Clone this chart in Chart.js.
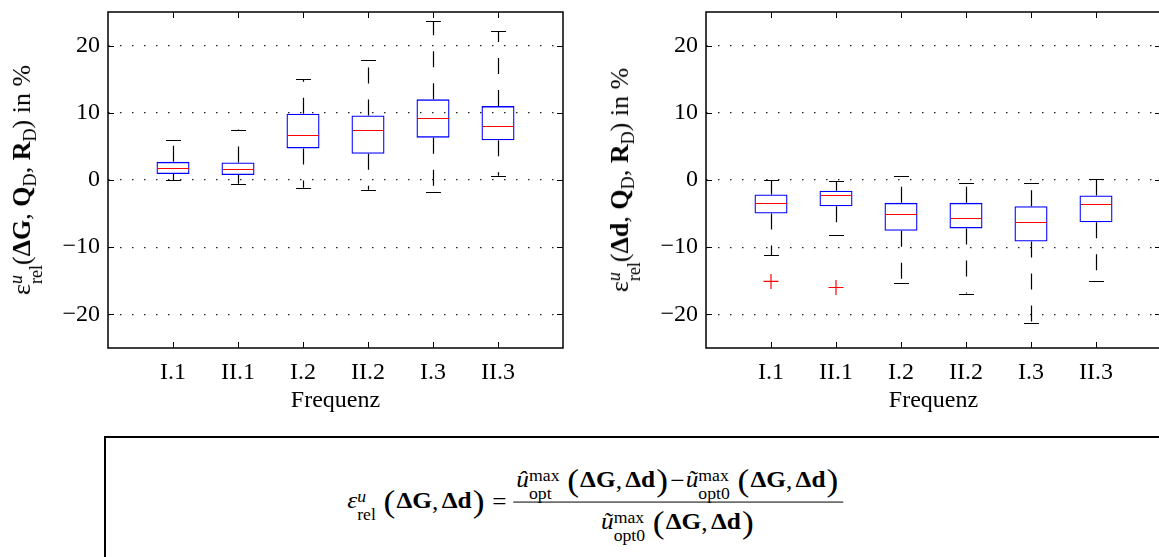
<!DOCTYPE html>
<html>
<head>
<meta charset="utf-8">
<script src="https://cdn.jsdelivr.net/npm/chart.js@4"></script>
<style>
  body {
    margin: 0;
    width: 1159px;
    height: 557px;
    overflow: hidden;
    background: #fff;
    position: relative;
    font-family: "Liberation Serif", "Times New Roman", serif;
    color: #000;
  }
  .plot { position: absolute; top: 0; }
  .ylabel {
    position: absolute;
    top: 180px;
    transform: translate(-50%, -50%) rotate(-90deg);
    white-space: nowrap;
    font-size: 26px;
    line-height: 1;
  }
  .ss {
    display: inline-flex;
    flex-direction: column;
    font-size: 0.7em;
    line-height: 1.1;
    vertical-align: 0.42em;
    text-align: left;
  }
  .ylabel sub { font-size: 0.7em; vertical-align: -0.35em; }
  #formula-box {
    position: absolute;
    left: 104px;
    top: 436px;
    width: 1200px;
    height: 200px;
    border: 2px solid #000;
  }
  #formula {
    position: absolute;
    left: 595px;
    top: 503px;
    transform: translate(-50%, -50%) scaleX(1.1);
    white-space: nowrap;
    font-size: 23px;
    line-height: 1.15;
  }
  #formula .mi { font-style: italic; }
  #formula .ss { margin-right: 6px; }
  #formula .pl { font-size: 1.4em; vertical-align: -0.1em; padding: 0 1px; font-weight: normal; }
  #formula .eq { padding: 0 6px; }
  #formula .op { padding: 0 1px; }
  #formula .cm { padding-right: 3px; }
  .frac {
    display: inline-flex;
    flex-direction: column;
    align-items: center;
    vertical-align: middle;
  }
  .frac .num { border-bottom: 1.4px solid #000; padding: 0 3px 0; }
  .frac .den { padding-top: 1px; }
</style>
</head>
<body>
<canvas id="chartG" class="plot" style="left:0px" width="600" height="420"></canvas>
<canvas id="chartD" class="plot" style="left:598px" width="600" height="420"></canvas>

<div class="ylabel" style="left:26px">ε<span class="ss"><i>u</i><span>rel</span></span>(<b>ΔG</b>, <b>Q</b><sub>D</sub>, <b>R</b><sub>D</sub>) in %</div>
<div class="ylabel" style="left:624px">ε<span class="ss"><i>u</i><span>rel</span></span>(<b>Δd</b>, <b>Q</b><sub>D</sub>, <b>R</b><sub>D</sub>) in %</div>

<div id="formula-box"></div>
<div id="formula"><span class="mi">ε</span><span class="ss"><i>u</i><span>rel</span></span><span class="pl">(</span><b>ΔG</b><span class="cm">,</span><b>Δd</b><span class="pl">)</span><span class="eq">=</span><span class="frac"><span class="num"><span class="mi">û</span><span class="ss"><span>max</span><span>opt</span></span><span class="pl">(</span><b>ΔG</b><span class="cm">,</span><b>Δd</b><span class="pl">)</span><span class="op">−</span><span class="mi">ũ</span><span class="ss"><span>max</span><span>opt0</span></span><span class="pl">(</span><b>ΔG</b><span class="cm">,</span><b>Δd</b><span class="pl">)</span></span><span class="den"><span class="mi">ũ</span><span class="ss"><span>max</span><span>opt0</span></span><span class="pl">(</span><b>ΔG</b><span class="cm">,</span><b>Δd</b><span class="pl">)</span></span></span></div>

<script>
// Kategorien (Frequenz)
const categories = ["I.1", "II.1", "I.2", "II.2", "I.3", "II.3"];
const yTicks = [-20, -10, 0, 10, 20];

// Boxplot ΔG
const gLowerWhisker = [0.0, -0.55, -1.15, -1.45, -1.85, 0.65];
const gQ1 = [0.9, 0.75, 4.7, 3.9, 6.3, 5.9];
const gMedian = [1.75, 1.6, 6.75, 7.45, 9.2, 8.0];
const gQ3 = [2.7, 2.6, 9.85, 9.6, 12.0, 11.0];
const gUpperWhisker = [6.0, 7.5, 15.0, 17.9, 23.6, 22.1];
const gOutlierCats = [];
const gOutlierValues = [];

// Boxplot Δd
const dLowerWhisker = [-11.2, -8.15, -15.3, -16.9, -21.3, -15.0];
const dQ1 = [-5.0, -3.9, -7.55, -7.2, -9.15, -6.3];
const dMedian = [-3.4, -2.3, -5.1, -5.6, -6.3, -3.6];
const dQ3 = [-2.15, -1.6, -3.4, -3.4, -3.9, -2.3];
const dUpperWhisker = [0.0, -0.15, 0.6, -0.45, -0.45, 0.15];
const dOutlierCats = [1, 2];
const dOutlierValues = [-15.1, -16.0];

const tickFont = { family: "Liberation Serif", size: 24 };

// Whisker, Kappen und Median über die Skalen zeichnen.
const boxplotPlugin = {
  id: "boxplot",
  afterDatasetsDraw(chart, args, opts) {
    const ctx = chart.ctx;
    const xs = chart.scales.x;
    const ys = chart.scales.y;
    const bars = chart.getDatasetMeta(0).data;
    ctx.save();
    opts.median.forEach((m, i) => {
      const x = Math.round(xs.getPixelForValue(i + 1)) + 0.5;
      const half = bars[i].width / 2;
      const cap = (xs.getPixelForValue(1.115) - xs.getPixelForValue(1));
      ctx.strokeStyle = "#000";
      ctx.lineWidth = 1.2;
      // Whisker gestrichelt
      ctx.setLineDash([16, 16]);
      ctx.beginPath();
      ctx.moveTo(x, ys.getPixelForValue(opts.q3[i]));
      ctx.lineTo(x, ys.getPixelForValue(opts.upper[i]));
      ctx.moveTo(x, ys.getPixelForValue(opts.q1[i]));
      ctx.lineTo(x, ys.getPixelForValue(opts.lower[i]));
      ctx.stroke();
      // Kappen
      ctx.setLineDash([]);
      ctx.beginPath();
      const yu = Math.round(ys.getPixelForValue(opts.upper[i])) + 0.5;
      const yl = Math.round(ys.getPixelForValue(opts.lower[i])) + 0.5;
      ctx.moveTo(x - cap, yu);
      ctx.lineTo(x + cap, yu);
      ctx.moveTo(x - cap, yl);
      ctx.lineTo(x + cap, yl);
      ctx.stroke();
      // Median
      const ym = Math.round(ys.getPixelForValue(m)) + 0.5;
      ctx.strokeStyle = "#ff0000";
      ctx.beginPath();
      ctx.moveTo(x - half + 1, ym);
      ctx.lineTo(x + half - 1, ym);
      ctx.stroke();
    });
    ctx.restore();
  },
};

// Rahmen und Ticks nach innen (wie bei MATLAB).
const framePlugin = {
  id: "frame",
  afterDraw(chart) {
    const ctx = chart.ctx;
    const a = chart.chartArea;
    const xs = chart.scales.x;
    const ys = chart.scales.y;
    const len = 6;
    ctx.save();
    ctx.strokeStyle = "#000";
    ctx.lineWidth = 1.5;
    ctx.strokeRect(a.left, a.top, a.right - a.left, a.bottom - a.top);
    ctx.lineWidth = 1;
    ctx.beginPath();
    xs.ticks.forEach(t => {
      const x = Math.round(xs.getPixelForValue(t.value)) + 0.5;
      ctx.moveTo(x, a.bottom);
      ctx.lineTo(x, a.bottom - len);
      ctx.moveTo(x, a.top);
      ctx.lineTo(x, a.top + len);
    });
    ys.ticks.forEach(t => {
      const y = Math.round(ys.getPixelForValue(t.value)) + 0.5;
      ctx.moveTo(a.left, y);
      ctx.lineTo(a.left + len, y);
      ctx.moveTo(a.right, y);
      ctx.lineTo(a.right - len, y);
    });
    ctx.stroke();
    ctx.restore();
  },
};

function renderBoxplot(idCanvas, lower, q1, median, q3, upper, outlierCats, outlierValues) {
  const ctx = document.getElementById(idCanvas).getContext("2d");
  new Chart(ctx, {
    type: "bar",
    data: {
      datasets: [
        {
          data: categories.map((c, i) => ({ x: i + 1, y: [q1[i], q3[i]] })),
          backgroundColor: "rgba(0,0,0,0)",
          borderColor: "#0000ff",
          borderWidth: 1.3,
          borderSkipped: false,
          barPercentage: 0.508,
          categoryPercentage: 1,
        },
        {
          type: "scatter",
          data: outlierCats.map((c, k) => ({ x: c, y: outlierValues[k] })),
          pointStyle: "cross",
          pointRadius: 7.5,
          borderColor: "#ff0000",
          borderWidth: 1.2,
        },
      ],
    },
    options: {
      responsive: false,
      animation: false,
      devicePixelRatio: 1,
      layout: { padding: { top: 12, right: 37, left: 0, bottom: 0 } },
      plugins: {
        legend: { display: false },
        tooltip: { enabled: false },
        boxplot: { lower, q1, median, q3, upper },
      },
      scales: {
        x: {
          type: "linear",
          min: 0,
          max: 7,
          offset: false,
          afterBuildTicks: s => {
            s.ticks = categories.map((c, i) => ({ value: i + 1 }));
          },
          afterFit: s => {
            s.height = 72;
            s.paddingLeft = 0;
            s.paddingRight = 0;
          },
          ticks: {
            callback: v => categories[v - 1],
            font: tickFont,
            color: "#000",
            padding: 10,
            maxRotation: 0,
            autoSkip: false,
          },
          grid: { display: false, drawTicks: false, offset: false },
          border: { display: false },
          title: {
            display: true,
            text: "Frequenz",
            font: tickFont,
            color: "#000",
            padding: { top: 0, bottom: 5 },
          },
        },
        y: {
          min: -25,
          max: 25,
          afterBuildTicks: s => {
            s.ticks = yTicks.map(v => ({ value: v }));
          },
          afterFit: s => {
            s.width = 108;
            s.paddingTop = 0;
            s.paddingBottom = 0;
          },
          ticks: {
            callback: v => (v < 0 ? "\u2212" + Math.abs(v) : String(v)),
            font: tickFont,
            color: "#000",
            padding: 8,
          },
          grid: { color: "#222", lineWidth: 1.3, drawTicks: false },
          border: { display: false, dash: [1.5, 10.5] },
        },
      },
    },
    plugins: [boxplotPlugin, framePlugin],
  });
}

renderBoxplot("chartG", gLowerWhisker, gQ1, gMedian, gQ3, gUpperWhisker, gOutlierCats, gOutlierValues);
renderBoxplot("chartD", dLowerWhisker, dQ1, dMedian, dQ3, dUpperWhisker, dOutlierCats, dOutlierValues);
</script>
</body>
</html>
